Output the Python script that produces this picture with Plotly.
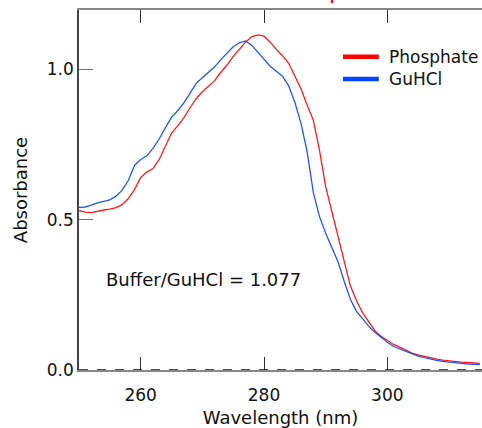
import plotly.graph_objects as go

wavelength = list(range(250, 316))

phosphate = [0.530, 0.525, 0.523, 0.528, 0.532, 0.535, 0.540, 0.550, 0.570, 0.600,
             0.640, 0.658, 0.670, 0.700, 0.745, 0.787, 0.812, 0.838, 0.872, 0.902,
             0.925, 0.943, 0.962, 0.990, 1.014, 1.042, 1.068, 1.090, 1.108, 1.114,
             1.110, 1.090, 1.066, 1.045, 1.020, 0.978, 0.935, 0.880, 0.831, 0.730,
             0.610, 0.527, 0.443, 0.360, 0.280, 0.230, 0.190, 0.160, 0.130, 0.112,
             0.098, 0.085, 0.076, 0.066, 0.056, 0.050, 0.045, 0.040, 0.036, 0.033,
             0.030, 0.028, 0.026, 0.025, 0.023, 0.022]

guhcl = [0.541, 0.542, 0.548, 0.556, 0.561, 0.566, 0.578, 0.598, 0.630, 0.680,
         0.700, 0.712, 0.737, 0.768, 0.805, 0.840, 0.862, 0.888, 0.920, 0.953,
         0.972, 0.990, 1.008, 1.032, 1.055, 1.075, 1.088, 1.094, 1.080, 1.057,
         1.032, 1.010, 0.993, 0.977, 0.945, 0.890, 0.820, 0.725, 0.590, 0.510,
         0.455, 0.405, 0.360, 0.295, 0.235, 0.195, 0.168, 0.145, 0.125, 0.108,
         0.092, 0.078, 0.070, 0.060, 0.052, 0.046, 0.041, 0.036, 0.032, 0.029,
         0.026, 0.024, 0.022, 0.020, 0.019, 0.018]

series_names = ["Phosphate", "GuHCl"]
x_ticks = [260, 280, 300]
y_ticks = [0.0, 0.5, 1.0]
ratio_text = "Buffer/GuHCl = 1.077"
title_text = "Absorbance Spectra"

RED = "#FF1A1A"
BLUE = "#1F55FF"
LEG_COLORS = ["#FF0000", "#0044FF"]
FONT = "DejaVu Sans"

fig = go.Figure()
fig.add_trace(go.Scatter(x=wavelength, y=phosphate, mode="lines", name=series_names[0],
                         line=dict(color=RED, width=1.3), showlegend=False))
fig.add_trace(go.Scatter(x=wavelength, y=guhcl, mode="lines", name=series_names[1],
                         line=dict(color=BLUE, width=1.3), showlegend=False))

# dashed zero line along the bottom axis
fig.add_shape(type="line", xref="paper", yref="y", x0=0, x1=1, y0=0, y1=0,
              line=dict(color="#111", width=1.5, dash="dash"))

# legend drawn in paper coordinates
leg_y = [0.870, 0.808]
for name, col, ly in zip(series_names, LEG_COLORS, leg_y):
    fig.add_shape(type="line", xref="paper", yref="paper", x0=0.655, x1=0.744,
                  y0=ly, y1=ly, line=dict(color=col, width=4.5))
    fig.add_annotation(x=0.765, y=ly, xref="paper", yref="paper", text=name,
                       showarrow=False, xanchor="left", yanchor="middle",
                       font=dict(family=FONT, size=17, color="#111"))

fig.add_annotation(x=254.1, y=0.30, xref="x", yref="y", text=ratio_text,
                   showarrow=False, xanchor="left", yanchor="middle",
                   font=dict(family=FONT, size=18, color="#111"))
fig.add_annotation(x=0.51, y=1.0105, xref="paper", yref="paper", text=title_text,
                   showarrow=False, xanchor="center", yanchor="bottom",
                   font=dict(family=FONT, size=24, color="#FF0000"))

fig.update_layout(
    width=482, height=428,
    margin=dict(l=79, r=0, t=10, b=58),
    paper_bgcolor="white", plot_bgcolor="white",
    font=dict(family=FONT, size=17, color="#111"),
    showlegend=False,
    xaxis=dict(range=[250, 315.35], tickvals=x_ticks, ticks="inside", ticklen=13,
               tickwidth=1.3, tickcolor="#333", showline=True, linecolor="#888",
               linewidth=1.5, mirror="allticks", showgrid=False, zeroline=False,
               ticklabelstandoff=9,
               title=dict(text="Wavelength (nm)", standoff=9, font=dict(size=18)),
               tickfont=dict(size=17)),
    yaxis=dict(range=[0, 1.197], tickvals=y_ticks, tickformat=".1f", ticks="inside",
               ticklen=14, tickwidth=1.3, tickcolor="#777", showline=True,
               linecolor="#444", linewidth=1.5, mirror=False, showgrid=False,
               zeroline=False, title=dict(text="Absorbance", standoff=15, font=dict(size=18)),
               tickfont=dict(size=17)),
)

fig.write_html("out.html", config={"displayModeBar": False},
               post_script="document.body.style.margin='0px';")
